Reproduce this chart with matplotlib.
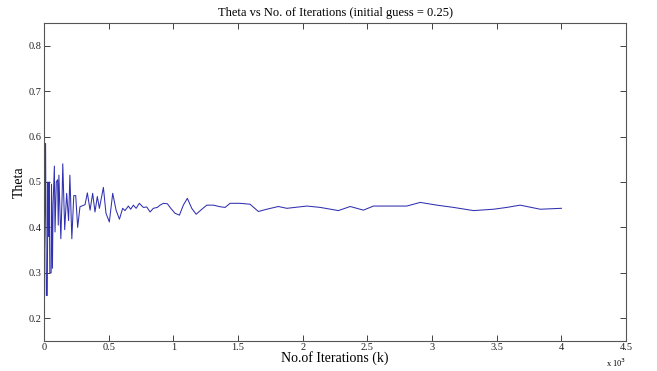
import numpy as np
import matplotlib.pyplot as plt

plt.rcParams["font.family"] = ["Liberation Serif", "DejaVu Serif"]

# Iterations in thousands (k) and estimated theta values
iters = [0.0, 0.012, 0.018, 0.025, 0.03, 0.035, 0.04, 0.045, 0.055, 0.058,
         0.065, 0.07, 0.08, 0.085, 0.095, 0.105, 0.11, 0.115, 0.125, 0.13,
         0.14, 0.145, 0.16, 0.175, 0.19, 0.2, 0.215, 0.23, 0.245, 0.26,
         0.278, 0.317, 0.335, 0.356, 0.376, 0.394, 0.412, 0.428, 0.459, 0.479,
         0.505, 0.531, 0.557, 0.583, 0.608, 0.626, 0.652, 0.670, 0.691, 0.712,
         0.737, 0.768, 0.794, 0.820, 0.845, 0.876, 0.897, 0.923, 0.954, 0.980,
         1.013, 1.047, 1.077, 1.108, 1.142, 1.176, 1.212, 1.258, 1.309, 1.361,
         1.400, 1.438, 1.516, 1.593, 1.657, 1.722, 1.812, 1.877, 2.032, 2.135,
         2.276, 2.367, 2.469, 2.547, 2.701, 2.805, 2.908, 3.037, 3.166, 3.320,
         3.475, 3.578, 3.681, 3.836, 4.0]
theta = [0.25, 0.585, 0.25, 0.25, 0.50, 0.38, 0.50, 0.30, 0.30, 0.495,
         0.31, 0.45, 0.535, 0.39, 0.50, 0.505, 0.405, 0.515, 0.42, 0.375,
         0.47, 0.54, 0.395, 0.475, 0.415, 0.515, 0.375, 0.47, 0.47, 0.40,
         0.4455, 0.45, 0.476, 0.438, 0.475, 0.434, 0.468, 0.442, 0.488, 0.431,
         0.412, 0.475, 0.438, 0.418, 0.442, 0.437, 0.447, 0.440, 0.449, 0.442,
         0.453, 0.444, 0.445, 0.434, 0.442, 0.444, 0.449, 0.453, 0.452, 0.442,
         0.431, 0.427, 0.449, 0.464, 0.442, 0.429, 0.438, 0.449, 0.449, 0.4455,
         0.444, 0.453, 0.453, 0.451, 0.435, 0.440, 0.446, 0.442, 0.447, 0.444,
         0.437, 0.446, 0.438, 0.447, 0.447, 0.447, 0.455, 0.449, 0.444, 0.437,
         0.440, 0.444, 0.449, 0.440, 0.442]

xticks = np.arange(0, 4.51, 0.5)
xtick_labels = ["0", "0.5", "1", "1.5", "2", "2.5", "3", "3.5", "4", "4.5"]
yticks = [0.2, 0.3, 0.4, 0.5, 0.6, 0.7, 0.8]

fig = plt.figure(figsize=(6.57, 3.71), dpi=100)
ax = fig.add_axes([0.067, 0.081, 0.886, 0.857])

ax.plot(iters, theta, color="#3030b0", linewidth=0.75)

ax.set_xlim(0, 4.5)
ax.set_ylim(0.15, 0.85)
ax.set_xticks(xticks)
ax.set_xticklabels(xtick_labels)
ax.set_yticks(yticks)
ax.tick_params(direction="in", top=True, right=True, length=4, width=0.6,
               labelsize=7.5, colors="#222222", pad=1.5)
for s in ax.spines.values():
    s.set_color("#555555")
    s.set_linewidth(0.8)

ax.set_title("Theta vs No. of Iterations (initial guess = 0.25)", fontsize=9, pad=5)
ax.set_xlabel("No.of Iterations (k)", fontsize=10, labelpad=-1)
ax.set_ylabel("Theta", fontsize=10, labelpad=2)
ax.text(1.0, -0.05, r"x 10$^3$", transform=ax.transAxes, fontsize=6,
        ha="right", va="top")

fig.savefig("out.png", dpi=100)
